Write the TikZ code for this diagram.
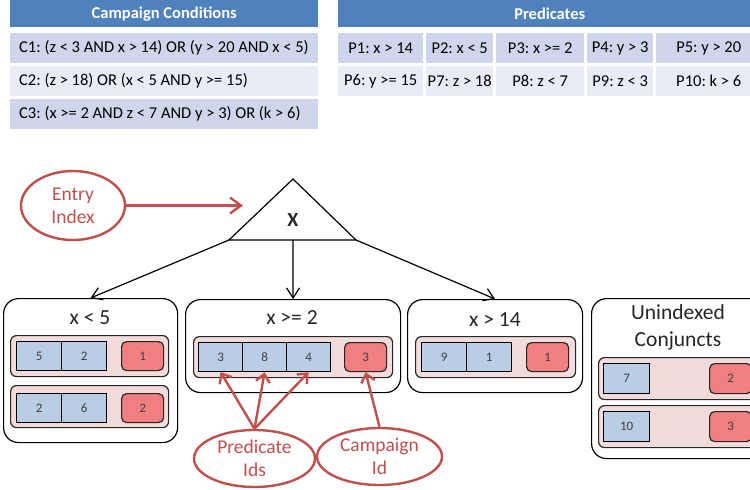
\documentclass[tikz,border=0pt]{standalone}
\usepackage{fontspec}
\setmainfont{Carlito}
\usetikzlibrary{shapes.geometric,arrows.meta}
\definecolor{hdrblue}{HTML}{4F81BD}
\definecolor{rowdark}{HTML}{CFD5EA}
\definecolor{rowlight}{HTML}{E9EBF5}
\definecolor{cellblue}{HTML}{B9CDE5}
\definecolor{pinkrow}{HTML}{F2DCDB}
\definecolor{cellred}{HTML}{F27F80}
\definecolor{annred}{HTML}{C0504D}
\definecolor{numgrey}{HTML}{404040}
\definecolor{inkdark}{HTML}{262626}
\frenchspacing
\begin{document}
\frenchspacing
\begin{tikzpicture}[x=1pt,y=-1pt,
  hdr/.style={fill=hdrblue,text=white,font=\bfseries\fontsize{16.5}{18}\selectfont,inner sep=0pt,minimum height=27pt,anchor=north west},
  crow/.style={inner sep=0pt,minimum width=308pt,minimum height=30pt,anchor=north west},
  ctext/.style={inner sep=0pt,anchor=west,font=\fontsize{16.5}{18}\selectfont},
  pcell/.style={inner sep=0pt,minimum height=30pt,anchor=north west,font=\fontsize{16.5}{18}\selectfont},
  grpbox/.style={draw=black,line width=1.2pt,rounded corners=15pt,inner sep=0pt,anchor=north west},
  grptitle/.style={inner sep=0pt,text=inkdark,font=\fontsize{21.5}{27}\selectfont,align=center},
  conj/.style={draw=black!85,fill=pinkrow,line width=1.2pt,rounded corners=6pt,inner sep=0pt,anchor=north west,minimum height=41pt},
  pid/.style={draw=black,fill=cellblue,line width=1.2pt,inner sep=0pt,anchor=north west,minimum width=45pt,minimum height=29pt,text=numgrey,font=\fontsize{13}{15}\selectfont},
  cid/.style={draw=black!85,fill=cellred,line width=1.2pt,rounded corners=5pt,inner sep=0pt,anchor=north west,minimum width=42pt,minimum height=29pt,text=numgrey,font=\fontsize{13}{15}\selectfont},
  note/.style={ellipse,draw=annred,line width=2.4pt,text=annred,inner sep=0pt,align=center,font=\fontsize{19.5}{23}\selectfont},
  redarrow/.style={draw=annred,line width=2.4pt,-{Straight Barb[length=8pt,width=14pt]}},
  blkarrow/.style={draw=black,line width=1.2pt,-{Straight Barb[length=10pt,width=13pt]}}
]
\useasboundingbox (0,0) rectangle (750,490);
\fill[white] (0,0) rectangle (750,490);
\clip (0,0) rectangle (750,490);

% Campaign conditions table
\node[hdr,minimum width=308pt] (ch) at (10,0) {Campaign Conditions};
\node[crow,fill=rowdark] (c1) at (10,33) {};
\node[crow,fill=rowlight] (c2) at (10,66) {};
\node[crow,fill=rowdark] (c3) at (10,99) {};
\node[ctext] (c1t) at ([xshift=9pt]c1.west) {C1: (z < 3 AND x > 14) OR (y > 20 AND x < 5)};
\node[ctext] (c2t) at ([xshift=9pt]c2.west) {C2: (z > 18) OR (x < 5 AND y >= 15)};
\node[ctext] (c3t) at ([xshift=9pt]c3.west) {C3: (x >= 2 AND z < 7 AND y > 3) OR (k > 6)};

% Predicates table
\node[hdr,minimum width=423pt] (ph) at (338,0) {Predicates};
\node[pcell,fill=rowdark,minimum width=85pt] (p1) at (338,33) {P1: x > 14};
\node[pcell,fill=rowdark,minimum width=67pt] (p2) at (426,33) {P2: x < 5};
\node[pcell,fill=rowdark,minimum width=88pt] (p3) at (496,33) {P3: x >= 2};
\node[pcell,fill=rowdark,minimum width=66pt] (p4) at (587,33) {P4: y > 3};
\node[pcell,fill=rowdark,minimum width=105pt] (p5) at (656,33) {P5: y > 20};
\node[pcell,fill=rowlight,minimum width=85pt] (p6) at (338,66) {P6: y >= 15};
\node[pcell,fill=rowlight,minimum width=67pt] (p7) at (426,66) {P7: z > 18};
\node[pcell,fill=rowlight,minimum width=88pt] (p8) at (496,66) {P8: z < 7};
\node[pcell,fill=rowlight,minimum width=66pt] (p9) at (587,66) {P9: z < 3};
\node[pcell,fill=rowlight,minimum width=105pt] (p10) at (656,66) {P10: k > 6};

% Entry index triangle
\coordinate (tapex) at (293,179);
\coordinate (tl) at (229,240);
\coordinate (tr) at (356,240);
\coordinate (tm) at (293,240);
\draw[line width=1.2pt,line join=miter] (tapex) -- (tr) -- (tl) -- cycle;
\node[inner sep=0pt,text=inkdark,font=\bfseries\fontsize{20}{22}\selectfont] (xlab) at (293,220) {X};

% Group boxes
\node[grpbox,minimum width=174pt,minimum height=144pt] (b1) at (3,298) {};
\node[grpbox,minimum width=215pt,minimum height=93pt] (b2) at (185,299) {};
\node[grpbox,minimum width=175pt,minimum height=93pt] (b3) at (407,299) {};
\node[grpbox,minimum width=174pt,minimum height=160pt] (b4) at (591,298) {};

\node[grptitle] (t1) at (90,318) {x < 5};
\node[grptitle] (t2) at (292,318) {x >= 2};
\node[grptitle] (t3) at (495,320) {x > 14};
\node[grptitle] (t4) at (678,327.5) {Unindexed\\Conjuncts};

% x < 5
\node[conj,minimum width=158pt] (r11) at (10,335) {};
\node[pid] (a11) at (16,341) {5};
\node[pid] (a12) at (61,341) {2};
\node[cid] (k11) at (121,341) {1};
\node[conj,minimum width=158pt,minimum height=42pt] (r12) at (10,385) {};
\node[pid] (a21) at (16,393) {2};
\node[pid] (a22) at (61,393) {6};
\node[cid] (k12) at (121,393) {2};

% x >= 2
\node[conj,minimum width=199pt] (r21) at (193,336) {};
\node[pid,minimum width=44pt] (c21) at (198,342) {3};
\node[pid,minimum width=44pt] (c22) at (242,342) {8};
\node[pid,minimum width=44pt] (c23) at (286,342) {4};
\node[cid] (k21) at (344,342) {3};

% x > 14
\node[conj,minimum width=160pt] (r31) at (415,336) {};
\node[pid] (d31) at (421,342) {9};
\node[pid] (d32) at (466,342) {1};
\node[cid] (k31) at (526,342) {1};

% Unindexed conjuncts
\node[conj,minimum width=159pt,minimum height=42pt] (r41) at (598,357) {};
\node[pid,minimum width=46pt,minimum height=30pt] (e41) at (603,363) {7};
\node[cid,minimum height=30pt] (k41) at (709,363) {2};
\node[conj,minimum width=159pt,minimum height=42pt] (r42) at (598,405) {};
\node[pid,minimum width=46pt,minimum height=30pt] (e42) at (603,411) {10};
\node[cid,minimum height=30pt] (k42) at (709,411) {3};

% Black connectors
\draw[blkarrow] (tl) -- (b1.north);
\draw[blkarrow] (tm) -- (b2.north);
\draw[blkarrow] (tr) -- (b3.north);

% Annotations
\node[note,minimum width=104pt,minimum height=69pt] (entry) at (73,205.5) {Entry\\Index};
\node[note,minimum width=121pt,minimum height=57pt] (pred) at (254.5,458.5) {Predicate\\Ids};
\node[note,minimum width=125pt,minimum height=57pt] (camp) at (379.5,456.5) {Campaign\\Id};
\coordinate (entrytip) at (243,205.5);

\draw[draw=annred,line width=2.4pt,-{Straight Barb[length=11pt,width=16pt]}] (entry.east) -- (entrytip);
\draw[redarrow] (pred.north) -- (c21.south);
\draw[redarrow] (pred.north) -- (c22.south);
\draw[redarrow] (pred.north) -- (c23.south);
\draw[redarrow] (camp.north) -- (k21.south);
\end{tikzpicture}
\end{document}
